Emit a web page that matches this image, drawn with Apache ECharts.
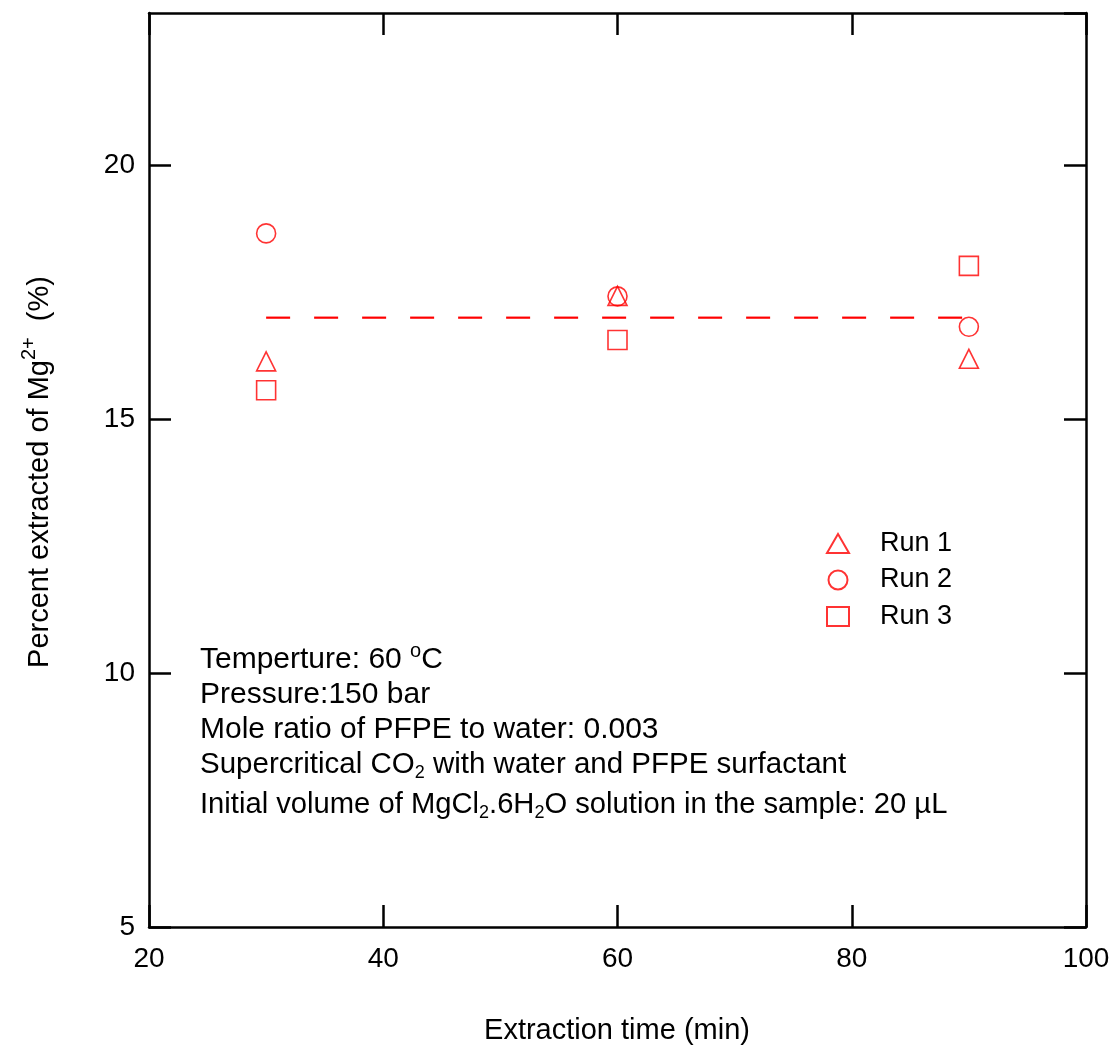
<!DOCTYPE html>
<html><head><meta charset="utf-8">
<script src="https://cdn.jsdelivr.net/npm/echarts@6/dist/echarts.min.js"></script>
<style>html,body{margin:0;padding:0;background:#fff}#c{width:1115px;height:1045px}</style>
</head><body><div id="c"></div>
<script>
const times = [30, 60, 90];
const run1 = [16.14, 17.43, 16.19];
const run2 = [18.66, 17.42, 16.82];
const run3 = [15.57, 16.56, 18.02];
const meanLine = [[30, 17.0], [90, 17.0]];
const seriesNames = ['Run 1', 'Run 2', 'Run 3'];
const xTicks = [20, 40, 60, 80, 100];
const yTicks = [5, 10, 15, 20];

const FONT = '"Liberation Sans", Arial, sans-serif';
const RED = '#ff0000';
const chart = echarts.init(document.getElementById('c'));

function pts(vals) { return times.map((t, i) => [t, vals[i]]); }
const axisLine = { show: true, lineStyle: { color: '#000', width: 2.5 } };
const axisTick = { show: true, inside: true, length: 22, lineStyle: { color: '#000', width: 2.5 } };

function scatter(name, vals, symbol) {
  return {
    type: 'scatter', name, data: pts(vals), symbol, symbolSize: 19,
    itemStyle: { color: 'rgba(0,0,0,0)', borderColor: RED, borderWidth: 1.6 },
    emphasis: { disabled: true }, z: 3
  };
}

chart.setOption({
  animation: false,
  backgroundColor: '#fff',
  grid: { left: 149, top: 13, right: 29, bottom: 118 },
  xAxis: [
    { type: 'value', min: 20, max: 100, interval: 20, position: 'bottom',
      axisLine, axisTick, splitLine: { show: false },
      axisLabel: { fontFamily: FONT, fontSize: 28, color: '#000', margin: 18,
        formatter: v => xTicks.includes(v) ? String(v) : '' } },
    { type: 'value', min: 20, max: 100, interval: 20, position: 'top',
      axisLine, axisTick, splitLine: { show: false }, axisLabel: { show: false } }
  ],
  yAxis: [
    { type: 'value', min: 5, max: 23, interval: 5, position: 'left',
      axisLine, axisTick, splitLine: { show: false },
      axisLabel: { fontFamily: FONT, fontSize: 28, color: '#000', margin: 14, showMaxLabel: false,
        formatter: v => yTicks.includes(v) ? String(v) : '' } },
    { type: 'value', min: 5, max: 23, interval: 5, position: 'right',
      axisLine, axisTick, splitLine: { show: false }, axisLabel: { show: false } }
  ],
  legend: {
    orient: 'vertical', left: 821, top: 525, itemWidth: 22, itemHeight: 19, itemGap: 9.5,
    data: seriesNames,
    textStyle: { fontFamily: FONT, fontSize: 27, color: '#000', padding: [0, 0, 0, 26], lineHeight: 24 },
    selectedMode: false
  },
  series: [
    scatter(seriesNames[0], run1, 'triangle'),
    scatter(seriesNames[1], run2, 'circle'),
    scatter(seriesNames[2], run3, 'rect'),
    { type: 'line', data: meanLine, symbol: 'none', silent: true,
      lineStyle: { color: RED, width: 2.2, type: [24, 24] }, z: 2 }
  ],
  graphic: [
    { type: 'text', x: 617, y: 1031, style: { text: 'Extraction time (min)', font: '29px ' + FONT, fill: '#000', align: 'center', verticalAlign: 'middle' } },
    { type: 'text', x: 40, y: 472, rotation: Math.PI / 2,
      style: { text: '{b|Percent extracted of Mg}{s|2+}{b|  (%)}', fill: '#000', align: 'center', verticalAlign: 'middle',
        rich: { b: { fontFamily: FONT, fontSize: 29, lineHeight: 42, fill: '#000' },
                s: { fontFamily: FONT, fontSize: 20, lineHeight: 42, verticalAlign: 'top', fill: '#000' } } } },
    { type: 'text', x: 200, y: 660, style: { text: '{b|Temperture: 60 }{s|o}{b|C}', align: 'left', verticalAlign: 'middle',
        rich: { b: { fontFamily: FONT, fontSize: 30, lineHeight: 38, fill: '#000' },
                s: { fontFamily: FONT, fontSize: 20, lineHeight: 38, verticalAlign: 'top', fill: '#000' } } } },
    { type: 'text', x: 200, y: 695, style: { text: 'Pressure:150 bar', font: '30px ' + FONT, fill: '#000', align: 'left', verticalAlign: 'middle' } },
    { type: 'text', x: 200, y: 730, style: { text: 'Mole ratio of PFPE to water: 0.003', font: '30px ' + FONT, fill: '#000', align: 'left', verticalAlign: 'middle' } },
    { type: 'text', x: 200, y: 765, style: { text: '{b|Supercritical CO}{u|2}{b| with water and PFPE surfactant}', align: 'left', verticalAlign: 'middle',
        rich: { b: { fontFamily: FONT, fontSize: 29.5, lineHeight: 34, fill: '#000' },
                u: { fontFamily: FONT, fontSize: 18, lineHeight: 34, verticalAlign: 'bottom', fill: '#000' } } } },
    { type: 'text', x: 200, y: 805, style: { text: '{b|Initial volume of MgCl}{u|2}{b|.6H}{u|2}{b|O solution in the sample: 20 \u00b5L}', align: 'left', verticalAlign: 'middle',
        rich: { b: { fontFamily: FONT, fontSize: 29.2, lineHeight: 34, fill: '#000' },
                u: { fontFamily: FONT, fontSize: 18, lineHeight: 34, verticalAlign: 'bottom', fill: '#000' } } } }
  ]
});
</script></body></html>
